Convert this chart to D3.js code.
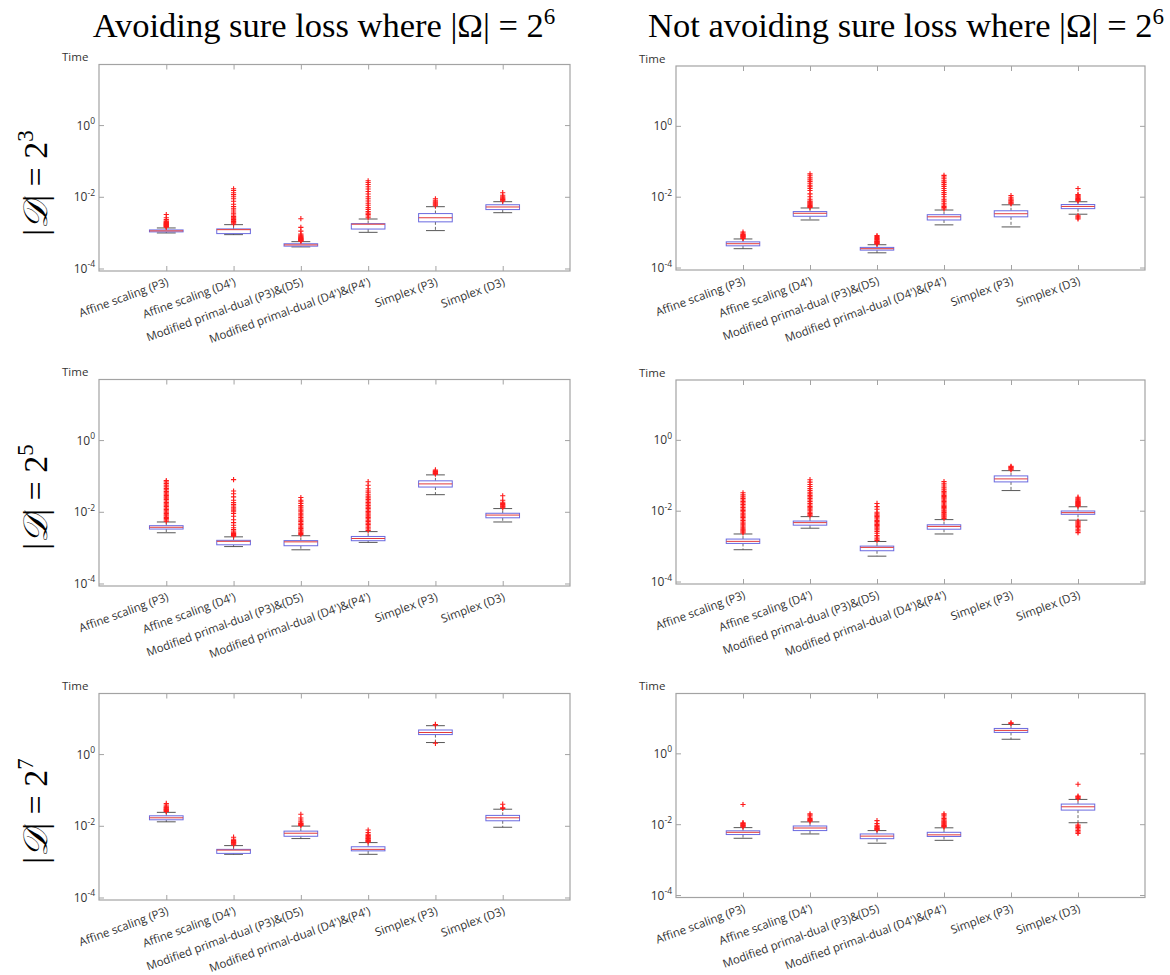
<!DOCTYPE html>
<html><head><meta charset="utf-8">
<script src="https://cdn.jsdelivr.net/npm/d3@7/dist/d3.min.js"></script>
<style>body{margin:0;background:#fff}</style>
</head><body><svg id="chart" width="1170" height="975"></svg>
<script>
// ---------- data ----------
const categories = ["Affine scaling (P3)", "Affine scaling (D4')", "Modified primal-dual (P3)&(D5)", "Modified primal-dual (D4')&(P4')", "Simplex (P3)", "Simplex (D3)"];
const yTickExponents = [-4, -2, 0];
const columnTitles = ["Avoiding sure loss where |Ω|\u2005=\u20052", "Not avoiding sure loss where |Ω|\u2005=\u20052"];
const omegaExponent = "6";
const rowExponents = ["3", "5", "7"];
const yAxisLabel = "Time";

// Avoiding sure loss, |D| = 2^3
const avoid3_lo  = [9.8e-4, 8.8e-4, 4.0e-4, 1.02e-3, 1.14e-3, 3.6e-3];
const avoid3_q1  = [1.05e-3, 9.4e-4, 4.2e-4, 1.26e-3, 2.0e-3, 4.4e-3];
const avoid3_med = [1.12e-3, 1.21e-3, 4.55e-4, 1.72e-3, 2.6e-3, 5.2e-3];
const avoid3_q3  = [1.19e-3, 1.27e-3, 4.9e-4, 1.78e-3, 3.4e-3, 6.0e-3];
const avoid3_hi  = [1.35e-3, 1.67e-3, 5.6e-4, 2.4e-3, 5.3e-3, 7.3e-3];
const avoid3_out = [
  [1.42e-3,1.48e-3,1.52e-3,1.56e-3,1.6e-3,1.65e-3,1.7e-3,1.75e-3,1.8e-3,1.86e-3,1.92e-3,2.0e-3,2.1e-3,2.3e-3,2.6e-3,3.2e-3],
  [1.75e-3,1.85e-3,1.95e-3,2.05e-3,2.15e-3,2.3e-3,2.45e-3,2.6e-3,2.8e-3,3.1e-3,3.5e-3,4e-3,4.6e-3,5.3e-3,6.2e-3,7.5e-3,8.8e-3,1.0e-2,1.15e-2,1.3e-2,1.5e-2,1.67e-2],
  [5.8e-4,6e-4,6.2e-4,6.4e-4,6.6e-4,6.8e-4,7e-4,7.3e-4,7.6e-4,8e-4,8.5e-4,9.2e-4,1.1e-3,1.4e-3,2.45e-3],
  [2.6e-3,2.9e-3,3.2e-3,3.5e-3,3.9e-3,4.4e-3,5e-3,5.8e-3,6.6e-3,7.6e-3,8.8e-3,1.0e-2,1.2e-2,1.4e-2,1.65e-2,1.9e-2,2.2e-2,2.5e-2,2.8e-2],
  [5.6e-3,6e-3,6.4e-3,6.8e-3,7.3e-3,8e-3,8.8e-3],
  [7.6e-3,8e-3,8.4e-3,8.8e-3,9.3e-3,1.0e-2,1.1e-2,1.3e-2]
];

// Not avoiding sure loss, |D| = 2^3
const notavoid3_lo  = [3.4e-4, 2.2e-3, 2.6e-4, 1.6e-3, 1.4e-3, 3.2e-3];
const notavoid3_q1  = [4.1e-4, 2.8e-3, 3.1e-4, 2.2e-3, 2.7e-3, 4.6e-3];
const notavoid3_med = [4.7e-4, 3.4e-3, 3.4e-4, 2.7e-3, 3.3e-3, 5.3e-3];
const notavoid3_q3  = [5.3e-4, 3.8e-3, 3.7e-4, 3.1e-3, 4.0e-3, 6.0e-3];
const notavoid3_hi  = [6.4e-4, 4.8e-3, 4.4e-4, 4.2e-3, 5.9e-3, 7.2e-3];
const notavoid3_out = [
  [6.6e-4,6.9e-4,7.2e-4,7.5e-4,7.8e-4,8.1e-4,8.5e-4,9e-4,1e-3],
  [5e-3,5.3e-3,5.6e-3,5.9e-3,6.2e-3,6.6e-3,7e-3,7.5e-3,8.5e-3,1.0e-2,1.2e-2,1.5e-2,1.7e-2,1.9e-2,2.1e-2,2.4e-2,2.7e-2,3.0e-2,3.4e-2,3.9e-2,4.4e-2],
  [4.6e-4,4.8e-4,5e-4,5.2e-4,5.4e-4,5.6e-4,5.9e-4,6.2e-4,6.6e-4,7e-4,7.5e-4,8e-4],
  [4.5e-3,4.9e-3,5.3e-3,5.8e-3,6.5e-3,7.5e-3,8.5e-3,1e-2,1.15e-2,1.3e-2,1.5e-2,1.7e-2,1.95e-2,2.2e-2,2.5e-2,2.8e-2,3.2e-2,3.6e-2,4e-2],
  [6.3e-3,6.7e-3,7.1e-3,7.6e-3,8.1e-3,8.6e-3,9.3e-3,1.07e-2],
  [7.6e-3,8e-3,8.4e-3,8.8e-3,9.3e-3,9.8e-3,1.04e-2,1.1e-2,1.15e-2,1.7e-2,2.9e-3,2.7e-3,2.5e-3,2.35e-3]
];

// Avoiding sure loss, |D| = 2^5
const avoid5_lo  = [2.6e-3, 1.07e-3, 8.7e-4, 1.4e-3, 3.0e-2, 5.2e-3];
const avoid5_q1  = [3.3e-3, 1.2e-3, 1.13e-3, 1.56e-3, 4.9e-2, 6.8e-3];
const avoid5_med = [3.7e-3, 1.5e-3, 1.45e-3, 1.8e-3, 6.0e-2, 8.1e-3];
const avoid5_q3  = [4.1e-3, 1.6e-3, 1.57e-3, 2.05e-3, 7.3e-2, 9.1e-3];
const avoid5_hi  = [5.2e-3, 2.0e-3, 2.15e-3, 2.8e-3, 0.107, 1.23e-2];
const avoid5_out = [
  [5.5e-3,6e-3,6.5e-3,7e-3,7.6e-3,8.2e-3,9e-3,9.8e-3,1.07e-2,1.17e-2,1.28e-2,1.4e-2,1.53e-2,1.67e-2,1.82e-2,2e-2,2.2e-2,2.4e-2,2.6e-2,2.85e-2,3.1e-2,3.4e-2,3.7e-2,4.1e-2,4.5e-2,5e-2,5.5e-2,6.1e-2,6.8e-2,7.4e-2],
  [2.1e-3,2.2e-3,2.35e-3,2.5e-3,2.7e-3,2.9e-3,3.2e-3,3.6e-3,4.2e-3,5e-3,6e-3,7.5e-3,9e-3,1e-2,1.1e-2,1.2e-2,1.3e-2,1.45e-2,1.6e-2,1.8e-2,2.1e-2,2.6e-2,3.2e-2,3.8e-2,7.9e-2],
  [2.3e-3,2.5e-3,2.7e-3,2.9e-3,3.1e-3,3.4e-3,3.7e-3,4e-3,4.4e-3,4.8e-3,5.3e-3,5.8e-3,6.3e-3,6.9e-3,7.6e-3,8.3e-3,9.1e-3,1e-2,1.1e-2,1.2e-2,1.35e-2,1.5e-2,1.7e-2,1.9e-2,2.1e-2,2.5e-2],
  [3e-3,3.3e-3,3.6e-3,4e-3,4.4e-3,4.8e-3,5.3e-3,5.8e-3,6.4e-3,7e-3,7.7e-3,8.5e-3,9.3e-3,1.02e-2,1.12e-2,1.23e-2,1.35e-2,1.5e-2,1.65e-2,1.8e-2,2e-2,2.2e-2,2.45e-2,2.7e-2,3e-2,3.4e-2,3.8e-2,4.4e-2,5.5e-2,6.9e-2],
  [0.112,0.117,0.122,0.127,0.132,0.138,0.147],
  [1.3e-2,1.37e-2,1.44e-2,1.52e-2,1.6e-2,1.7e-2,1.85e-2,2.1e-2,2.8e-2]
];

// Not avoiding sure loss, |D| = 2^5
const notavoid5_lo  = [7.9e-4, 3.2e-3, 5.2e-4, 2.2e-3, 3.7e-2, 5.4e-3];
const notavoid5_q1  = [1.19e-3, 3.9e-3, 7.4e-4, 3.0e-3, 6.5e-2, 7.9e-3];
const notavoid5_med = [1.36e-3, 4.6e-3, 9.2e-4, 3.6e-3, 7.9e-2, 8.8e-3];
const notavoid5_q3  = [1.58e-3, 5.1e-3, 1.0e-3, 4.0e-3, 9.6e-2, 9.8e-3];
const notavoid5_hi  = [2.2e-3, 6.8e-3, 1.35e-3, 5.6e-3, 0.135, 1.29e-2];
const notavoid5_out = [
  [2.35e-3,2.5e-3,2.7e-3,2.9e-3,3.1e-3,3.4e-3,3.7e-3,4e-3,4.4e-3,4.8e-3,5.3e-3,5.8e-3,6.4e-3,7e-3,7.7e-3,8.5e-3,9.3e-3,1.02e-2,1.12e-2,1.23e-2,1.35e-2,1.5e-2,1.65e-2,1.8e-2,2e-2,2.2e-2,2.45e-2,2.8e-2,3.2e-2],
  [7.2e-3,7.7e-3,8.3e-3,9e-3,1e-2,1.1e-2,1.2e-2,1.3e-2,1.45e-2,1.6e-2,1.8e-2,2e-2,2.2e-2,2.45e-2,2.7e-2,3e-2,3.3e-2,3.7e-2,4.2e-2,4.8e-2,5.5e-2,6.4e-2,7.5e-2],
  [1.45e-3,1.6e-3,1.8e-3,2e-3,2.3e-3,2.6e-3,2.9e-3,3.2e-3,3.5e-3,3.8e-3,4.1e-3,4.5e-3,4.9e-3,5.3e-3,5.8e-3,6.3e-3,6.9e-3,7.5e-3,8.2e-3,9e-3,1.1e-2,1.3e-2,1.6e-2],
  [6e-3,6.5e-3,7e-3,7.6e-3,8.2e-3,8.9e-3,9.6e-3,1.04e-2,1.13e-2,1.22e-2,1.32e-2,1.43e-2,1.55e-2,1.68e-2,1.82e-2,1.97e-2,2.13e-2,2.3e-2,2.5e-2,2.7e-2,2.95e-2,3.2e-2,3.5e-2,3.9e-2,4.4e-2,5e-2,5.7e-2,6.6e-2],
  [0.142,0.15,0.158,0.166,0.174,0.18],
  [1.34e-2,1.4e-2,1.46e-2,1.52e-2,1.58e-2,1.65e-2,1.72e-2,1.8e-2,1.9e-2,2e-2,2.1e-2,2.25e-2,2.4e-2,5.1e-3,4.8e-3,4.5e-3,4.2e-3,3.9e-3,3.6e-3,3.3e-3,3e-3,2.7e-3,2.4e-3]
];

// Avoiding sure loss, |D| = 2^7
const avoid7_lo  = [1.29e-2, 1.6e-3, 4.4e-3, 1.6e-3, 2.1, 9.1e-3];
const avoid7_q1  = [1.47e-2, 1.7e-3, 5.1e-3, 2.0e-3, 3.5, 1.38e-2];
const avoid7_med = [1.67e-2, 2.1e-3, 6.2e-3, 2.2e-3, 4.0, 1.67e-2];
const avoid7_q3  = [1.9e-2, 2.2e-3, 7.1e-3, 2.6e-3, 4.7, 1.95e-2];
const avoid7_hi  = [2.37e-2, 2.8e-3, 9.8e-3, 3.4e-3, 6.2, 2.9e-2];
const avoid7_out = [
  [2.5e-2,2.6e-2,2.7e-2,2.8e-2,2.9e-2,3e-2,3.15e-2,3.3e-2,3.5e-2,3.8e-2,4.2e-2],
  [2.95e-3,3.1e-3,3.25e-3,3.4e-3,3.55e-3,3.7e-3,3.9e-3,4.2e-3,4.8e-3],
  [1.02e-2,1.06e-2,1.1e-2,1.15e-2,1.2e-2,1.3e-2,1.45e-2,1.65e-2,2.1e-2],
  [3.55e-3,3.7e-3,3.85e-3,4e-3,4.2e-3,4.4e-3,4.6e-3,4.85e-3,5.1e-3,5.4e-3,5.8e-3,6.5e-3,7.6e-3],
  [6.5,6.7,2.0],
  [3.05e-2,3.2e-2,4e-2]
];

// Not avoiding sure loss, |D| = 2^7
const notavoid7_lo  = [4.0e-3, 5.3e-3, 2.9e-3, 3.5e-3, 2.5, 1.1e-2];
const notavoid7_q1  = [5.1e-3, 6.6e-3, 3.9e-3, 4.5e-3, 3.9, 2.5e-2];
const notavoid7_med = [5.9e-3, 7.8e-3, 4.6e-3, 5.0e-3, 4.45, 3.1e-2];
const notavoid7_q3  = [6.5e-3, 8.9e-3, 5.3e-3, 5.9e-3, 5.05, 3.7e-2];
const notavoid7_hi  = [8.0e-3, 1.16e-2, 6.6e-3, 7.9e-3, 6.55, 5.0e-2];
const notavoid7_out = [
  [8.4e-3,8.8e-3,9.2e-3,9.6e-3,1.0e-2,1.05e-2,1.1e-2,3.6e-2],
  [1.22e-2,1.28e-2,1.35e-2,1.45e-2,1.6e-2,1.8e-2,1.95e-2],
  [6.9e-3,7.2e-3,7.5e-3,7.8e-3,8.2e-3,8.7e-3,9.3e-3,1.05e-2,1.26e-2],
  [8.3e-3,8.7e-3,9.1e-3,9.6e-3,1.01e-2,1.07e-2,1.14e-2,1.22e-2,1.32e-2,1.45e-2,1.6e-2,1.8e-2,1.95e-2],
  [7.0,7.3],
  [5.3e-2,5.6e-2,5.9e-2,6.2e-2,0.134,9.5e-3,8.8e-3,8e-3,7.3e-3,6.6e-3,6e-3,5.5e-3]
];

// ---------- layout ----------
const svg = d3.select("#chart");
const colLayout = [
  {x0: 99,  x1: 570,  tops: [64.5, 379.5, 693.5], h: 206.5},
  {x0: 676, x1: 1145, tops: [66, 380, 693.5],    h: 204}
];
const yDomain = [Math.pow(10, -4.07), Math.pow(10, 1.69)];

const panels = [
  {col:0,row:0,lo:avoid3_lo,q1:avoid3_q1,med:avoid3_med,q3:avoid3_q3,hi:avoid3_hi,out:avoid3_out},
  {col:1,row:0,lo:notavoid3_lo,q1:notavoid3_q1,med:notavoid3_med,q3:notavoid3_q3,hi:notavoid3_hi,out:notavoid3_out},
  {col:0,row:1,lo:avoid5_lo,q1:avoid5_q1,med:avoid5_med,q3:avoid5_q3,hi:avoid5_hi,out:avoid5_out},
  {col:1,row:1,lo:notavoid5_lo,q1:notavoid5_q1,med:notavoid5_med,q3:notavoid5_q3,hi:notavoid5_hi,out:notavoid5_out},
  {col:0,row:2,lo:avoid7_lo,q1:avoid7_q1,med:avoid7_med,q3:avoid7_q3,hi:avoid7_hi,out:avoid7_out},
  {col:1,row:2,lo:notavoid7_lo,q1:notavoid7_q1,med:notavoid7_med,q3:notavoid7_q3,hi:notavoid7_hi,out:notavoid7_out}
];

const frameColor = "#a3a3a3";
const tickFont = "'Open Sans', 'DejaVu Sans', sans-serif";

panels.forEach(p => {
  const L = colLayout[p.col];
  const top = L.tops[p.row], bottom = top + L.h;
  const x = d3.scaleLinear().domain([0, 7]).range([L.x0, L.x1]);
  const y = d3.scaleLog().domain(yDomain).range([bottom, top]);
  const g = svg.append("g");

  // frame
  g.append("rect").attr("x", L.x0).attr("y", top).attr("width", L.x1 - L.x0).attr("height", L.h)
    .attr("fill", "#fff").attr("stroke", frameColor).attr("stroke-width", 1.2);

  // ticks (inward) using d3 axes
  const xAxisB = d3.axisBottom(x).tickValues(d3.range(1, 7)).tickSize(-5).tickFormat("");
  const xAxisT = d3.axisTop(x).tickValues(d3.range(1, 7)).tickSize(-5).tickFormat("");
  const yTickVals = yTickExponents.map(e => Math.pow(10, e));
  const yAxisL = d3.axisLeft(y).tickValues(yTickVals).tickSize(-5).tickFormat("");
  const yAxisR = d3.axisRight(y).tickValues(yTickVals).tickSize(-5).tickFormat("");
  [[xAxisB, `translate(0,${bottom})`], [xAxisT, `translate(0,${top})`],
   [yAxisL, `translate(${L.x0},0)`], [yAxisR, `translate(${L.x1},0)`]].forEach(([ax, tr]) => {
    const a = g.append("g").attr("transform", tr).call(ax);
    a.select(".domain").remove();
    a.selectAll("line").attr("stroke", frameColor);
  });

  // y tick labels 10^e
  yTickExponents.forEach(e => {
    const t = g.append("text").attr("x", L.x0 - 4).attr("y", y(Math.pow(10, e)) + 4.5)
      .attr("text-anchor", "end").attr("font-family", tickFont).attr("font-size", 12).attr("fill", "#333");
    t.append("tspan").text("10");
    t.append("tspan").attr("dy", -5.5).attr("font-size", 8.5).text(String(e));
  });

  // y label
  g.append("text").attr("x", L.x0 - 37).attr("y", top - 3.5).attr("font-family", tickFont)
    .attr("font-size", 11.5).attr("fill", "#333").text(yAxisLabel);

  // x tick labels
  categories.forEach((c, i) => {
    const tx = x(i + 1) + 3, ty = bottom + 14;
    g.append("text").attr("transform", `translate(${tx},${ty}) rotate(-20)`)
      .attr("text-anchor", "end").attr("font-family", tickFont).attr("font-size", 11.5)
      .attr("fill", "#333").text(c);
  });

  // boxes
  const hw = 0.25, cw = 0.14;
  categories.forEach((c, i) => {
    const cx = i + 1;
    const bg = g.append("g");
    // whiskers (dashed)
    bg.append("line").attr("x1", x(cx)).attr("x2", x(cx)).attr("y1", y(p.q3[i])).attr("y2", y(p.hi[i]))
      .attr("stroke", "#444").attr("stroke-width", 0.8).attr("stroke-dasharray", "3,2");
    bg.append("line").attr("x1", x(cx)).attr("x2", x(cx)).attr("y1", y(p.q1[i])).attr("y2", y(p.lo[i]))
      .attr("stroke", "#444").attr("stroke-width", 0.8).attr("stroke-dasharray", "3,2");
    // caps
    [p.hi[i], p.lo[i]].forEach(v => {
      bg.append("line").attr("x1", x(cx - cw)).attr("x2", x(cx + cw)).attr("y1", y(v)).attr("y2", y(v))
        .attr("stroke", "#444").attr("stroke-width", 0.9);
    });
    // box
    bg.append("rect").attr("x", x(cx - hw)).attr("width", x(cx + hw) - x(cx - hw))
      .attr("y", y(p.q3[i])).attr("height", Math.max(1, y(p.q1[i]) - y(p.q3[i])))
      .attr("fill", "#fff").attr("stroke", "#6a6ae0").attr("stroke-width", 1);
    // median
    bg.append("line").attr("x1", x(cx - hw)).attr("x2", x(cx + hw)).attr("y1", y(p.med[i])).attr("y2", y(p.med[i]))
      .attr("stroke", "#e23a3a").attr("stroke-width", 1);
    // outliers
    p.out[i].forEach(v => {
      const px = x(cx), py = y(v), s = 2.6;
      bg.append("path").attr("d", `M${px - s},${py}H${px + s}M${px},${py - s}V${py + s}`)
        .attr("stroke", "#ff1a1a").attr("stroke-width", 1.1).attr("fill", "none");
    });
  });
});

// column titles
const titleFont = "'Liberation Serif', 'DejaVu Serif', serif";
const titleX = [324, 906];
columnTitles.forEach((t, i) => {
  const tt = svg.append("text").attr("x", titleX[i]).attr("y", 37).attr("text-anchor", "middle")
    .attr("font-family", titleFont).attr("font-size", 34.5).attr("fill", "#000");
  tt.append("tspan").text(t);
  tt.append("tspan").attr("dy", -13.5).attr("font-size", 23).text(omegaExponent);
});

// row labels
const rowCenters = [183, 497, 811];
rowExponents.forEach((e, i) => {
  const tt = svg.append("text").attr("transform", `translate(47,${rowCenters[i]}) rotate(-90)`)
    .attr("text-anchor", "middle").attr("font-family", titleFont).attr("font-size", 34).attr("fill", "#000");
  tt.append("tspan").text("|");
  tt.append("tspan").attr("font-family", "'DejaVu Sans', 'Noto Sans', serif").attr("font-style", "italic").text("𝒟");
  tt.append("tspan").text("|\u2005=\u20052");
  tt.append("tspan").attr("dy", -14).attr("font-size", 23).text(e);
});
</script>
</body></html>
